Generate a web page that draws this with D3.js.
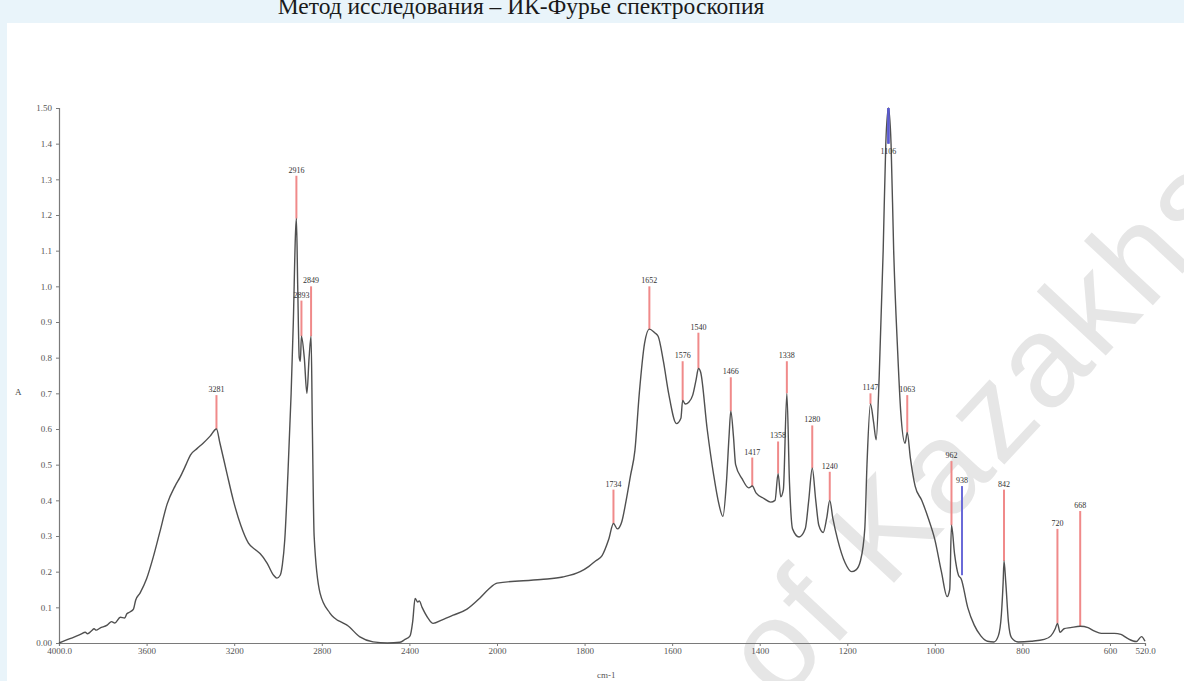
<!DOCTYPE html>
<html><head><meta charset="utf-8">
<script src="https://cdn.jsdelivr.net/npm/d3@7"></script>
<style>
html,body{margin:0;padding:0;background:#e9f4fa;}
svg{display:block;}
</style></head>
<body>
<svg id="c" width="1184" height="681"></svg>
<script>
// ---- data ----
const wavenumbers = [4000,3950,3900,3880,3870,3850,3840,3830,3813,3780,3760,3745,3720,3700,3690,3676,3660,3650,3630,3600,3570,3540,3506,3470,3447,3420,3400,3370,3342,3310,3281,3265,3233,3204,3170,3135,3100,3081,3050,3020,3005,2990,2980,2969,2955,2940,2930,2920,2916,2910,2903,2898,2893,2880,2868,2858,2849,2843,2835,2808,2763,2700,2685,2626,2566,2500,2443,2420,2397,2385,2374,2362,2355,2342,2315,2292,2250,2200,2137,2080,2040,2000,1900,1850,1810,1790,1775,1760,1745,1734,1725,1715,1705,1695,1685,1675,1663,1652,1640,1632,1620,1608,1590,1580,1576,1570,1562,1553,1545,1540,1535,1520,1505,1495,1484,1476,1470,1466,1460,1455,1440,1425,1417,1408,1390,1375,1365,1358,1352,1346,1338,1332,1325,1310,1296,1288,1280,1272,1265,1255,1247,1240,1233,1222,1205,1190,1180,1170,1160,1155,1147,1140,1134,1127,1118,1112,1106,1100,1094,1085,1078,1068,1063,1056,1045,1030,1015,1000,985,972,966,962,955,946,940,925,910,895,880,865,855,848,844,842,838,832,825,810,780,750,735,725,720,714,705,690,668,650,635,620,590,575,560,540,528,520];
const absorbance = [0.0,0.012,0.025,0.03,0.026,0.035,0.04,0.036,0.042,0.05,0.06,0.056,0.072,0.07,0.082,0.087,0.095,0.12,0.14,0.18,0.24,0.31,0.39,0.44,0.465,0.50,0.527,0.545,0.56,0.58,0.60,0.56,0.475,0.40,0.33,0.28,0.26,0.25,0.224,0.19,0.182,0.19,0.22,0.29,0.47,0.70,0.90,1.15,1.19,1.0,0.80,0.79,0.86,0.80,0.70,0.80,0.86,0.60,0.30,0.14,0.084,0.055,0.05,0.017,0.003,0.0,0.002,0.01,0.02,0.06,0.125,0.115,0.118,0.10,0.07,0.055,0.065,0.078,0.095,0.125,0.15,0.168,0.178,0.185,0.20,0.215,0.23,0.245,0.29,0.335,0.32,0.34,0.40,0.47,0.54,0.70,0.84,0.88,0.87,0.86,0.79,0.70,0.615,0.63,0.68,0.67,0.675,0.695,0.74,0.77,0.76,0.60,0.47,0.40,0.355,0.45,0.58,0.65,0.58,0.50,0.46,0.435,0.44,0.42,0.405,0.395,0.40,0.475,0.41,0.43,0.70,0.45,0.32,0.297,0.32,0.40,0.49,0.40,0.33,0.31,0.35,0.40,0.35,0.29,0.225,0.20,0.205,0.23,0.32,0.50,0.67,0.62,0.57,0.75,1.10,1.40,1.50,1.40,1.10,0.82,0.65,0.56,0.59,0.52,0.44,0.40,0.35,0.29,0.20,0.13,0.15,0.33,0.25,0.19,0.18,0.10,0.05,0.02,0.005,0.003,0.02,0.08,0.17,0.23,0.17,0.06,0.015,0.003,0.005,0.01,0.02,0.04,0.055,0.03,0.04,0.043,0.047,0.043,0.033,0.027,0.027,0.024,0.013,0.004,0.018,0.005];

const peakLabels = ["3281","2916","2893","2849","1734","1652","1576","1540","1466","1417","1358","1338","1280","1240","1147","1106","1063","962","938","842","720","668"];
const peakPositions = [3281,2916,2893,2849,1734,1652,1576,1540,1466,1417,1358,1338,1280,1240,1147,1106,1063,962,938,842,720,668];
const peakHeights = [0.60,1.19,0.86,0.86,0.335,0.88,0.68,0.77,0.65,0.44,0.475,0.70,0.49,0.40,0.67,1.50,0.59,0.33,0.19,0.23,0.055,0.047];
const peakLabelLevels = [0.695,1.31,0.96,1.00,0.43,1.00,0.79,0.87,0.745,0.52,0.565,0.79,0.61,0.48,0.70,1.40,0.695,0.51,0.44,0.43,0.32,0.37];
const peakSelected = [false,false,false,false,false,false,false,false,false,false,false,false,false,false,false,true,false,false,true,false,false,false];

const xTickValues = [4000,3600,3200,2800,2400,2000,1800,1600,1400,1200,1000,800,600,520];
const xTickLabels = ["4000.0","3600","3200","2800","2400","2000","1800","1600","1400","1200","1000","800","600","520.0"];
const yTickValues = [0,0.1,0.2,0.3,0.4,0.5,0.6,0.7,0.8,0.9,1.0,1.1,1.2,1.3,1.4,1.5];
const yTickLabels = ["0.00","0.1","0.2","0.3","0.4","0.5","0.6","0.7","0.8","0.9","1.0","1.1","1.2","1.3","1.4","1.50"];

const titleText = "Метод исследования – ИК-Фурье спектроскопия";
const watermarkText = "of Kazakhstan";

// ---- drawing ----
const svg = d3.select("#c");
svg.append("rect").attr("x",7).attr("y",23).attr("width",1177).attr("height",658).attr("fill","#ffffff");

svg.append("text").attr("x",521).attr("y",14).attr("text-anchor","middle")
  .attr("font-family","'Liberation Serif','Times New Roman',serif").attr("font-size",23.5)
  .attr("fill","#1a1a1a").text(titleText);

const x = d3.scaleLinear().domain([4000,2000,520]).range([59,497,1145]);
const y = d3.scaleLinear().domain([0,1.5]).range([643,108]);

// watermark
svg.append("text").attr("transform","translate(780,705) rotate(-47)")
  .attr("font-family","'Liberation Sans',Arial,sans-serif").attr("font-size",130)
  .attr("letter-spacing",4)
  .attr("fill","#e6e6e6").text(watermarkText);

const serif = "'Liberation Serif','Times New Roman',serif";

// axes
const xAxis = d3.axisBottom(x).tickValues(xTickValues).tickSize(3)
  .tickFormat((d,i)=>xTickLabels[i]);
const gx = svg.append("g").attr("transform","translate(0,643)").call(xAxis);
gx.select(".domain").attr("stroke","#7a7a7a").attr("stroke-width",1.2);
gx.selectAll(".tick line").attr("stroke","#7a7a7a");
gx.selectAll(".tick text").attr("font-family",serif).attr("font-size",9).attr("fill","#555").attr("dy","0.5em");

const yAxis = d3.axisLeft(y).tickValues(yTickValues).tickSize(3)
  .tickFormat((d,i)=>yTickLabels[i]);
const gy = svg.append("g").attr("transform","translate(59,0)").call(yAxis);
gy.select(".domain").attr("stroke","#7a7a7a").attr("stroke-width",1.2);
gy.selectAll(".tick line").attr("stroke","#7a7a7a");
gy.selectAll(".tick text").attr("font-family",serif).attr("font-size",9).attr("fill","#555").attr("dx","-1");

svg.append("text").attr("x",15).attr("y",395).attr("font-family",serif).attr("font-size",9).attr("fill","#444").text("A");
svg.append("text").attr("x",597).attr("y",678).attr("font-family",serif).attr("font-size",9).attr("fill","#555").text("cm-1");

// peak marker lines
const peaks = peakPositions.map((p,i)=>({p, h:peakHeights[i], l:peakLabelLevels[i], t:peakLabels[i], s:peakSelected[i]}));
svg.append("g").selectAll("line").data(peaks).join("line")
  .attr("x1",d=>x(d.p)).attr("x2",d=>x(d.p))
  .attr("y1",d=>d.s && d.h>d.l ? y(d.h) : y(d.l)).attr("y2",d=>d.s && d.h>d.l ? y(d.l) : y(d.h))
  .attr("stroke",d=>d.s?"#6a6ad8":"#f08a8a").attr("stroke-width",2);

// spectrum
const pts = wavenumbers.map((w,i)=>[w,absorbance[i]]);
const line = d3.line().x(d=>x(d[0])).y(d=>y(d[1])).curve(d3.curveMonotoneX);
svg.append("path").datum(pts).attr("d",line).attr("fill","none").attr("stroke","#505050").attr("stroke-width",1.4);

// blue highlight on top of 1106
svg.append("g").selectAll("line").data(peaks.filter(d=>d.s && d.h>d.l)).join("line")
  .attr("x1",d=>x(d.p)).attr("x2",d=>x(d.p)).attr("y1",d=>y(d.h)).attr("y2",d=>y(d.l))
  .attr("stroke","#5a5ad0").attr("stroke-width",2.5);

// peak labels
svg.append("g").selectAll("text").data(peaks).join("text")
  .attr("x",d=>x(d.p)).attr("y",d=> d.s && d.h>d.l ? y(d.l)+10 : y(d.l)-3)
  .attr("text-anchor","middle").attr("font-family",serif).attr("font-size",8).attr("fill","#333")
  .text(d=>d.t);
</script>
</body></html>
